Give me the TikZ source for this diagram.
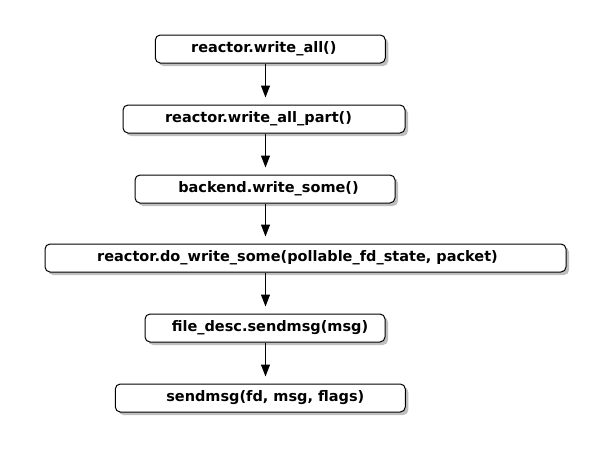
\documentclass[tikz,border=0pt]{standalone}
\usepackage{fontspec}
\setmainfont{DejaVu Sans}
\usetikzlibrary{arrows.meta,shadows}

\tikzset{
	call/.style={draw, rectangle, rounded corners=5pt, line width=1pt, fill=white,
		minimum height=28pt, inner sep=0pt,
		font=\fontsize{14.5}{17}\selectfont\bfseries,
		drop shadow={shadow xshift=3pt, shadow yshift=-3pt, fill=black, opacity=0.25}},
	% text sits a little off the box centre
	nudge/.style={execute at begin node=\hspace*{#1}},
	flow/.style={->, >={Triangle[length=12pt, width=9pt]}, line width=1pt, shorten >=7pt}
}

\begin{document}
\begin{tikzpicture}[x=1pt, y=-1pt]
				\useasboundingbox[fill=white] (0, 0) rectangle (590, 448);
				\coordinate (lane) at (265.5, 0);
				\node[call, nudge=-13pt, minimum width=230pt] (WA)at(270.3, 49) {reactor.write\_all()};
				\node[call, nudge=-11pt, minimum width=282pt] (WAP)at(264, 119) {reactor.write\_all\_part()};
				\node[call, nudge=7pt, minimum width=260pt] (WS)at(265, 189) {backend.write\_some()};
				\node[call, nudge=-16pt, minimum width=521pt] (DWS)at(305.5, 258) {reactor.do\_write\_some(pollable\_fd\_state, packet)};
				\node[call, nudge=10pt, minimum width=240pt] (FD)at(265, 328) {file\_desc.sendmsg(msg)};
				\node[call, nudge=10pt, minimum width=290pt] (SM)at(260.3, 398) {sendmsg(fd, msg, flags)};
				\draw[flow] (WA.south -| lane) -- (WAP.north -| lane);
				\draw[flow] (WAP.south -| lane) -- (WS.north -| lane);
				\draw[flow] (WS.south -| lane) -- (DWS.north -| lane);
				\draw[flow] (DWS.south -| lane) -- (FD.north -| lane);
				\draw[flow] (FD.south -| lane) -- (SM.north -| lane);
			\end{tikzpicture}
\end{document}
